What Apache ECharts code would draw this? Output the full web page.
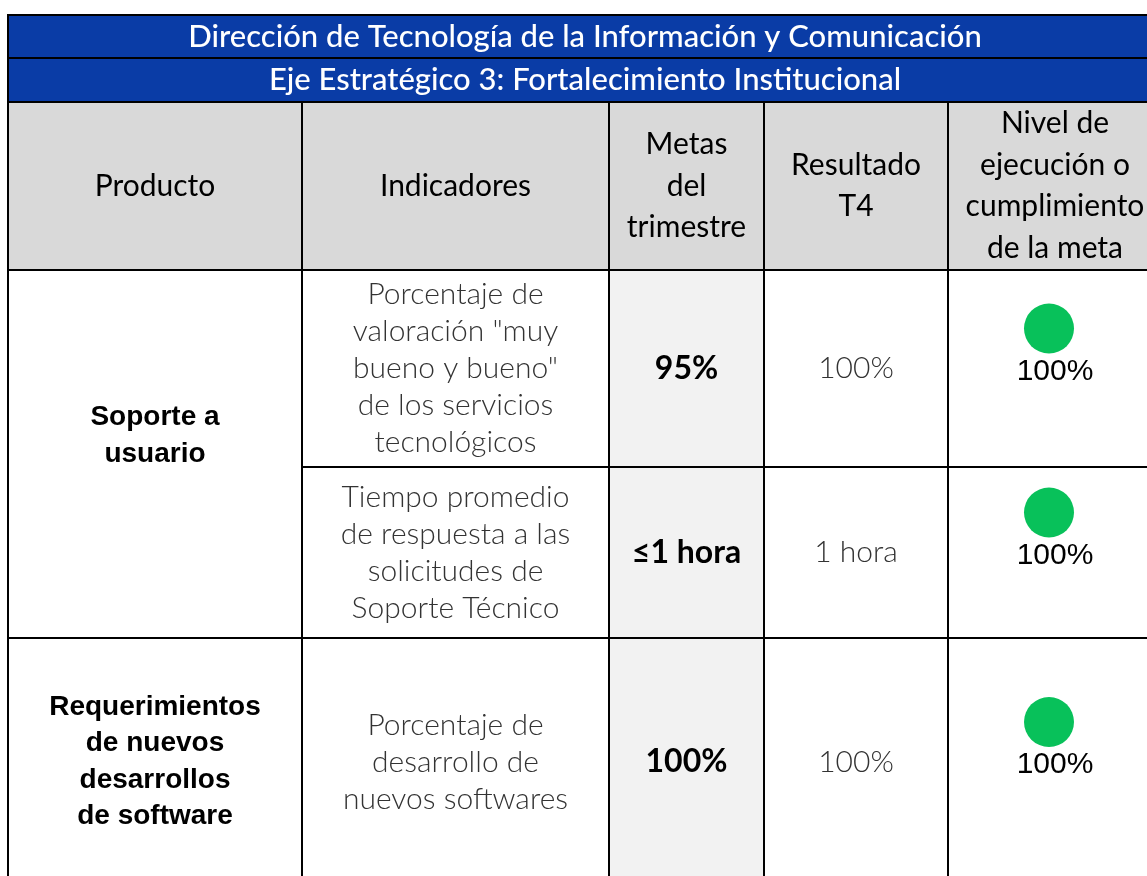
<!DOCTYPE html>
<html>
<head>
<meta charset="utf-8">
<script src="https://cdn.jsdelivr.net/npm/echarts@6/dist/echarts.min.js"></script>
<style>
html,body{margin:0;padding:0;background:#fff;}
#chart{width:1147px;height:876px;}
</style>
</head>
<body>
<div id="chart"></div>
<script>
// ---- data ----
const titles = [
  "Dirección de Tecnología de la Información y Comunicación",
  "Eje Estratégico 3: Fortalecimiento Institucional"
];
const headers = ["Producto", "Indicadores", "Metas\ndel\ntrimestre", "Resultado\nT4", "Nivel de\nejecución o\ncumplimiento\nde la meta"];
const products = ["Soporte a\nusuario", "Requerimientos\nde nuevos\ndesarrollos\nde software"];
const productRowSpans = [2, 1];
const indicators = [
  "Porcentaje de\nvaloración \"muy\nbueno y bueno\"\nde los servicios\ntecnológicos",
  "Tiempo promedio\nde respuesta a las\nsolicitudes de\nSoporte Técnico",
  "Porcentaje de\ndesarrollo de\nnuevos softwares"
];
const metas = ["95%", "≤1 hora", "100%"];
const resultados = ["100%", "1 hora", "100%"];
const cumplimiento = ["100%", "100%", "100%"];

// ---- layout (page units) ----
const COL_EDGES = [8, 302, 609, 764, 948, 1162];
const ROW_EDGES = [15, 58, 102, 270, 467, 638, 886];

const STYLES = {
  title:     { fill: '#0A3CA6', color: '#ffffff', font: '500 31px Lato', lh: 36 },
  header:    { fill: '#D9D9D9', color: '#000000', font: '400 30px Lato', lh: 41.5 },
  product:   { fill: '#ffffff', color: '#000000', font: 'bold 28px "Liberation Sans"', lh: 36.5 },
  indicator: { fill: '#ffffff', color: '#333333', font: '300 30px Lato', lh: 37 },
  meta:      { fill: '#F2F2F2', color: '#000000', font: 'bold 32px Lato', lh: 36 },
  result:    { fill: '#ffffff', color: '#333333', font: '300 30px Lato', lh: 36 },
  level:     { fill: '#ffffff', color: '#000000', font: '30px "Liberation Sans"', lh: 36 }
};

// build cells: [c0, c1, r0, r1, kind, text]
const cells = [];
titles.forEach((t, i) => cells.push([0, 5, i, i + 1, 'title', t]));
headers.forEach((h, i) => cells.push([i, i + 1, 2, 3, 'header', h]));
let r = 3;
products.forEach((p, i) => {
  cells.push([0, 1, r, r + productRowSpans[i], 'product', p]);
  r += productRowSpans[i];
});
indicators.forEach((t, i) => {
  const row = 3 + i;
  cells.push([1, 2, row, row + 1, 'indicator', t]);
  cells.push([2, 3, row, row + 1, 'meta', metas[i]]);
  cells.push([3, 4, row, row + 1, 'result', resultados[i]]);
  cells.push([4, 5, row, row + 1, 'level', cumplimiento[i]]);
});

const chart = echarts.init(document.getElementById('chart'), null, { renderer: 'canvas' });
chart.setOption({
  animation: false,
  grid: { left: 0, right: 0, top: 0, bottom: 0 },
  xAxis: { type: 'value', min: 0, max: 1147, show: false },
  yAxis: { type: 'value', min: 0, max: 876, inverse: true, show: false },
  series: [{
    type: 'custom',
    coordinateSystem: 'cartesian2d',
    clip: false,
    data: cells.map(c => ({ value: [c[0], c[1], c[2], c[3]], kind: c[4], label: c[5] })),
    encode: { x: [0, 1], y: [2, 3] },
    renderItem: function (params, api) {
      const c = cells[params.dataIndex];
      const st = STYLES[c[4]];
      const p0 = api.coord([COL_EDGES[c[0]], ROW_EDGES[c[2]]]);
      const p1 = api.coord([COL_EDGES[c[1]], ROW_EDGES[c[3]]]);
      const x = p0[0], y = p0[1], w = p1[0] - p0[0], h = p1[1] - p0[1];
      const cx = x + w / 2;
      let cy = y + h / 2;
      if (c[4] === 'product' && c[3] - c[2] > 1) cy -= 18;
      const children = [{
        type: 'rect',
        shape: { x: x, y: y, width: w, height: h },
        style: { fill: st.fill, stroke: '#000', lineWidth: 2 }
      }];
      if (c[4] === 'level') {
        children.push({
          type: 'circle',
          shape: { cx: cx - 6, cy: cy - 40, r: 25 },
          style: { fill: '#08C15A' }
        });
        cy += 3;
      }
      children.push({
        type: 'text',
        style: {
          text: c[5], x: cx, y: cy, align: 'center', verticalAlign: 'middle',
          font: st.font, fill: st.color, lineHeight: st.lh
        }
      });
      return { type: 'group', children: children };
    }
  }]
});
</script>
</body>
</html>
